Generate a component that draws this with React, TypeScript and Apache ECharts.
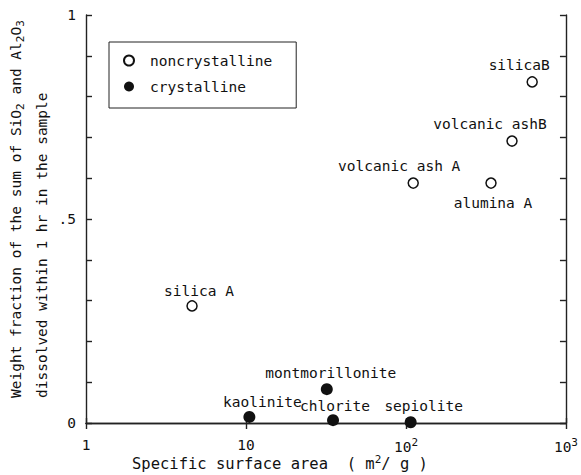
import React, { useEffect, useRef } from "react";
import * as echarts from "echarts";

const FONT = "DejaVu Sans Mono";
const INK = "#111";

// noncrystalline samples
const openNames = ["silica A", "volcanic ash A", "alumina A", "volcanic ashB", "silicaB"];
const openX = [4.6, 111, 340, 460, 615];
const openY = [0.287, 0.588, 0.588, 0.691, 0.836];

// crystalline samples
const filledNames = ["kaolinite", "chlorite", "sepiolite", "montmorillonite"];
const filledX = [10.5, 35, 107, 32];
const filledY = [0.015, 0.007, 0.002, 0.083];

// axis ticks
const yLabelMap: Record<string, string> = { "0": "0", "0.5": ".5", "1": "1" };
const xLabelMap: Record<string, string> = { "1": "1", "10": "10", "100": "10{sup|2}", "1000": "10{sup|3}" };

// label placement (style only)
const openLabelPos = [
  { position: "top", offset: [7, 3] },
  { position: "top", offset: [-14, 1] },
  { position: "bottom", offset: [2, 2] },
  { position: "top", offset: [-22, 1] },
  { position: "top", offset: [-13, 1] },
];
const filledLabelPos = [
  { position: "top", offset: [13, 4] },
  { position: "top", offset: [2, 4] },
  { position: "top", offset: [13, 2] },
  { position: "top", offset: [4, 2] },
];

export default function App() {
  const ref = useRef<HTMLDivElement>(null);
  useEffect(() => {
    if (!ref.current) return;
    const chart = echarts.init(ref.current, null, { renderer: "svg" });
    const labelBase = { show: true, fontFamily: FONT, fontSize: 14.5, color: INK, formatter: "{b}" };
    const axisLineStyle = { color: "#222", width: 1.4 };
    const option: any = {
      animation: false,
      backgroundColor: "#fff",
      textStyle: { fontFamily: FONT },
      grid: { left: 86, right: 13, top: 15, bottom: 52, containLabel: false },
      legend: {
        orient: "vertical",
        left: 109,
        top: 42,
        padding: [11, 24, 14, 14],
        itemGap: 11,
        itemWidth: 10,
        itemHeight: 10,
        borderColor: "#222",
        borderWidth: 1,
        textStyle: { fontFamily: FONT, fontSize: 14.5, color: INK, lineHeight: 14, padding: [0, 0, 0, 11] },
        data: ["noncrystalline", "crystalline"],
      },
      xAxis: [
        {
          type: "log",
          logBase: 10,
          min: 1,
          max: 1000,
          axisLine: { show: true, lineStyle: axisLineStyle },
          axisTick: { show: true, inside: true, length: 5, lineStyle: axisLineStyle },
          splitLine: { show: false },
          minorTick: { show: false },
          axisLabel: {
            margin: 14,
            fontFamily: FONT,
            fontSize: 14.5,
            color: INK,
            formatter: (v: number) => xLabelMap[String(Math.round(v))] ?? "",
            rich: { sup: { fontFamily: FONT, fontSize: 11, color: INK, padding: [0, 0, 9, 0] } },
          },
        },
        {
          type: "log",
          logBase: 10,
          min: 1,
          max: 1000,
          position: "top",
          axisLine: { show: true, lineStyle: axisLineStyle },
          axisTick: { show: true, inside: true, length: 6, lineStyle: axisLineStyle },
          axisLabel: { show: false },
          splitLine: { show: false },
        },
      ],
      yAxis: [
        {
          type: "value",
          min: 0,
          max: 1,
          interval: 0.1,
          axisLine: { show: true, lineStyle: axisLineStyle },
          axisTick: { show: true, inside: true, length: 6, lineStyle: axisLineStyle },
          splitLine: { show: false },
          axisLabel: {
            margin: 10,
            fontFamily: FONT,
            fontSize: 14.5,
            color: INK,
            formatter: (v: number) => yLabelMap[String(Math.round(v * 10) / 10)] ?? "",
          },
        },
        {
          type: "value",
          min: 0,
          max: 1,
          interval: 0.1,
          position: "right",
          axisLine: { show: true, lineStyle: axisLineStyle },
          axisTick: { show: true, inside: true, length: 6, lineStyle: axisLineStyle },
          splitLine: { show: false },
          axisLabel: { show: false },
        },
      ],
      series: [
        {
          name: "noncrystalline",
          type: "scatter",
          symbol: "circle",
          symbolSize: 10,
          itemStyle: { color: "#fff", borderColor: "#111", borderWidth: 1.5, opacity: 1 },
          data: openNames.map((n, i) => ({
            name: n,
            value: [openX[i], openY[i]],
            label: { ...labelBase, ...openLabelPos[i] },
          })),
        },
        {
          name: "crystalline",
          type: "scatter",
          symbol: "circle",
          symbolSize: 12,
          itemStyle: { color: "#111", opacity: 1 },
          data: filledNames.map((n, i) => ({
            name: n,
            value: [filledX[i], filledY[i]],
            label: { ...labelBase, ...filledLabelPos[i] },
          })),
        },
      ],
      graphic: [
        {
          type: "text",
          x: 16,
          y: 398,
          rotation: Math.PI / 2,
          style: {
            text: "Weight fraction of the sum of SiO{sub|2} and Al{sub|2}O{sub|3}",
            fontFamily: FONT,
            fontSize: 14.5,
            fill: INK,
            align: "left",
            verticalAlign: "middle",
            rich: { sub: { fontFamily: FONT, fontSize: 11, fill: INK, padding: [8, 0, 0, 0] } },
          },
        },
        {
          type: "text",
          x: 42,
          y: 398,
          rotation: Math.PI / 2,
          style: {
            text: "dissolved within 1 hr in the sample",
            fontFamily: FONT,
            fontSize: 14.5,
            fill: INK,
            align: "left",
            verticalAlign: "middle",
          },
        },
        {
          type: "text",
          x: 132,
          y: 464,
          style: {
            text: "Specific surface area  ( m{sup|2}/ g )",
            fontFamily: FONT,
            fontSize: 15.5,
            fill: INK,
            align: "left",
            verticalAlign: "middle",
            rich: { sup: { fontFamily: FONT, fontSize: 11, fill: INK, padding: [0, 0, 9, 0] } },
          },
        },
      ],
    };
    chart.setOption(option);
    return () => chart.dispose();
  }, []);
  return <div ref={ref} style={{ position: "absolute", left: 0, top: 0, width: 581, height: 475 }} />;
}
